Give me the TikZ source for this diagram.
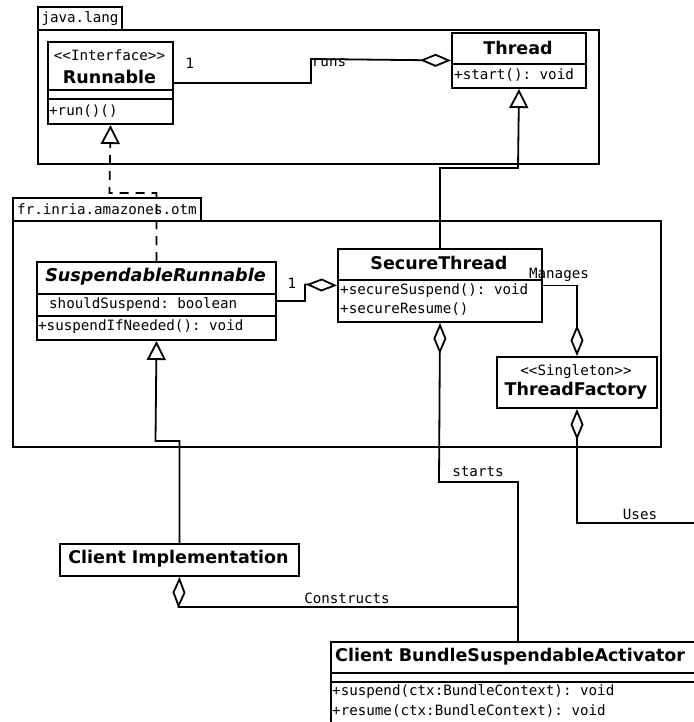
\documentclass[tikz,border=0pt]{standalone}
\usepackage{fontspec}
\setmainfont{DejaVu Sans}
\setmonofont{DejaVu Sans Mono}
\usetikzlibrary{arrows.meta}

\tikzset{
    umlbox/.style={draw, line width=2pt, fill=white, anchor=north west, inner sep=0pt},
    pkgbox/.style={draw, line width=2pt, anchor=north west, inner sep=0pt},
    classname/.style={font=\fontsize{17.5}{20}\selectfont\bfseries, inner sep=0pt},
    codetext/.style={font=\fontsize{14.2}{17}\selectfont\ttfamily, inner sep=0pt},
    member/.style={codetext, anchor=west},
    conn/.style={line width=1.8pt},
    aggr/.style={conn, -{Diamond[open, length=31pt, width=13pt]}},
    inherit/.style={conn, -{Triangle[open, length=19pt, width=19pt]}},
    realize/.style={inherit, dash pattern=on 9pt off 7pt},
}

\begin{document}
\begin{tikzpicture}[x=1pt, y=-1pt]
    \useasboundingbox (0,0) rectangle (693,722);
    \node[pkgbox, codetext, minimum width=84pt, minimum height=23pt] (langTab) at (37,6) {java.lang};
    \node[pkgbox, minimum width=561pt, minimum height=134pt] (langPkg) at (37,29) {};
    \node[pkgbox, codetext, minimum width=188pt, minimum height=23pt] (otmTab) at (12,197) {fr.inria.amazones.otm};
    \node[pkgbox, minimum width=648pt, minimum height=226pt] (otmPkg) at (12,220) {};

    \node[umlbox, minimum width=125pt, minimum height=82pt] (runnable) at (47,41) {};
    \draw[line width=2pt] (47,90) -- (172,90) (47,99) -- (172,99);
    \node[codetext] (runnableStereo) at (109.5,55) {\textless\textless Interface\textgreater\textgreater};
    \node[classname] (runnableName) at (109.5,77) {Runnable};
    \node[member] (runnableRun) at (49,111) {+run()()};

    \node[umlbox, minimum width=134pt, minimum height=55pt] (thread) at (451,32) {};
    \draw[line width=2pt] (451,64) -- (585,64);
    \node[classname] (threadName) at (518,48) {Thread};
    \node[member] (threadStart) at (454,75) {+start(): void};

    \node[umlbox, minimum width=239pt, minimum height=78pt] (srunnable) at (36,261) {};
    \draw[line width=2pt] (36,294) -- (275,294) (36,316) -- (275,316);
    \node[classname, font=\fontsize{17.6}{20}\selectfont\bfseries\itshape] (srunnableName) at (155.5,277) {SuspendableRunnable};
    \node[member] (srunnableAttr) at (49,305) {shouldSuspend: boolean};
    \node[member] (srunnableOp) at (38,327) {+suspendIfNeeded(): void};

    \node[umlbox, minimum width=204pt, minimum height=73pt] (securethread) at (337,248) {};
    \draw[line width=2pt] (337,280) -- (541,280);
    \node[classname] (securethreadName) at (439,263) {SecureThread};
    \node[member] (securethreadSuspend) at (340,291) {+secureSuspend(): void};
    \node[member] (securethreadResume) at (340,309) {+secureResume()};

    \node[umlbox, minimum width=160pt, minimum height=51pt] (threadfactory) at (496,356) {};
    \node[codetext] (threadfactoryStereo) at (576,372) {\textless\textless Singleton\textgreater\textgreater};
    \node[classname] (threadfactoryName) at (576,391) {ThreadFactory};

    \node[umlbox, minimum width=239pt, minimum height=32pt] (clientimpl) at (59,543) {};
    \node[classname] (clientimplName) at (178.5,559) {Client Implementation};

    \node[umlbox, minimum width=374pt, minimum height=82pt] (cba) at (330,641) {};
    \draw[line width=2pt] (330,673) -- (704,673) (330,682) -- (704,682);
    \node[classname, anchor=west] (cbaName) at (335,657) {Client BundleSuspendableActivator};
    \node[member] (cbaSuspend) at (332,692) {+suspend(ctx:BundleContext): void};
    \node[member] (cbaResume) at (332,711) {+resume(ctx:BundleContext): void};

    \draw[aggr] (runnable.east) -| (311,59) -- (thread.west);
    \node[codetext] (runsMult) at (190,63) {1};
    \node[codetext] (runsLabel) at (329,63) {runs};
    \draw[realize] (srunnable.north) |- (109.5,193) -- (runnable.south);
    \draw[inherit] (securethread.north) |- (518,168) -- (thread.south);
    \draw[aggr] (srunnable.east) -| (305,284.5) -- (securethread.west);
    \node[codetext] (holdsMult) at (292,283) {1};
    \draw[aggr] (securethread.east) -| (threadfactory.north);
    \node[codetext] (managesLabel) at (559,275) {Manages};
    \draw[aggr] (cba.north) |- (439,482) -- (securethread.south);
    \node[codetext] (startsLabel) at (478,472) {starts};
    \draw[aggr] (cba.north) |- (178.5,607) -- (clientimpl.south);
    \node[codetext] (constructsLabel) at (347,598) {Constructs};
    \coordinate (usesEnd) at (700,523);
    \draw[aggr] (usesEnd) -| (threadfactory.south);
    \node[codetext] (usesLabel) at (640,514) {Uses};
    \draw[inherit] (clientimpl.north) |- (155.5,441) -- (srunnable.south);
\end{tikzpicture}
\end{document}
